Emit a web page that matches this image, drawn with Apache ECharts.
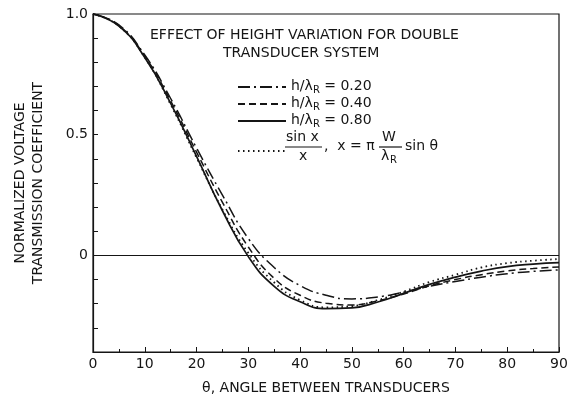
<!DOCTYPE html>
<html>
<head>
<meta charset="utf-8">
<script src="https://cdn.jsdelivr.net/npm/echarts@6/dist/echarts.min.js"></script>
<style>
  html, body { margin: 0; padding: 0; background: #fff; }
  #main { width: 582px; height: 405px; }
</style>
</head>
<body>
<div id="main"></div>
<script>
// angle between transducers (degrees)
var angles = [0, 5, 10, 15, 20, 25, 30, 35, 40, 45, 50, 55, 60, 65, 70, 75, 80, 85, 90];
// h/lambdaR = 0.20 (dash-dot)
var h020 = [1.0, 0.955, 0.83, 0.65, 0.445, 0.25, 0.07, -0.05, -0.125, -0.165, -0.18, -0.172, -0.152, -0.128, -0.108, -0.09, -0.076, -0.066, -0.06];
// h/lambdaR = 0.40 (dashed)
var h040 = [1.0, 0.952, 0.825, 0.64, 0.428, 0.22, 0.035, -0.095, -0.165, -0.198, -0.205, -0.188, -0.16, -0.126, -0.1, -0.08, -0.064, -0.054, -0.048];
// h/lambdaR = 0.80 (solid)
var h080 = [1.0, 0.95, 0.82, 0.63, 0.41, 0.185, -0.005, -0.128, -0.192, -0.22, -0.217, -0.193, -0.157, -0.12, -0.09, -0.065, -0.046, -0.036, -0.03];
// sin x / x (dotted)
var sincVals = [1.0, 0.95, 0.82, 0.625, 0.405, 0.19, 0.01, -0.112, -0.185, -0.215, -0.21, -0.185, -0.15, -0.11, -0.08, -0.05, -0.032, -0.022, -0.015];
var yLabels = { '0': '0', '0.5': '0.5', '1': '1.0' };

var font = 'DejaVu Sans';
var ink = '#151515';

function pairs(vals) {
    return angles.map(function (a, i) { return [a, vals[i]]; });
}

var myChart = echarts.init(document.getElementById('main'), null, { renderer: 'canvas' });

var legendRich = {
    a: { fontFamily: font, fontSize: 14, color: ink, lineHeight: 16, verticalAlign: 'top' },
    s: { fontFamily: font, fontSize: 10, color: ink, lineHeight: 16, verticalAlign: 'bottom', padding: [6, 0, 0, 0] }
};

var option = {
    backgroundColor: '#fff',
    animation: false,
    grid: { left: 93, right: 23, top: 14, bottom: 53, show: true, borderColor: ink, borderWidth: 1.2 },
    title: [
        { text: 'EFFECT OF HEIGHT VARIATION FOR DOUBLE', left: 145, top: 23,
          textStyle: { fontFamily: font, fontSize: 14, fontWeight: 'normal', color: ink } },
        { text: 'TRANSDUCER SYSTEM', left: 218, top: 41,
          textStyle: { fontFamily: font, fontSize: 14, fontWeight: 'normal', color: ink } }
    ],
    legend: [
        {
            data: ['h/λR = 0.20', 'h/λR = 0.40', 'h/λR = 0.80'],
            orient: 'vertical', left: 232, top: 74,
            itemWidth: 48, itemHeight: 12, itemGap: 1,
            itemStyle: { opacity: 0 },
            formatter: function (name) {
                return '{a|h/λ}{s|R}{a| = ' + name.split('= ')[1] + '}';
            },
            textStyle: { rich: legendRich }
        },
        {
            data: ['sinx/x'],
            orient: 'vertical', left: 232, top: 140,
            itemWidth: 48, itemHeight: 12,
            itemStyle: { opacity: 0 },
            formatter: function () { return ''; }
        }
    ],
    xAxis: {
        type: 'value', min: 0, max: 90, interval: 10,
        name: 'θ, ANGLE BETWEEN TRANSDUCERS', nameLocation: 'middle', nameGap: 29,
        nameTextStyle: { fontFamily: font, fontSize: 14, color: ink },
        axisLine: { show: true, onZero: false, lineStyle: { color: ink, width: 1.2 } },
        axisTick: { show: true, inside: true, length: 5, lineStyle: { color: ink } },
        minorTick: { show: true, splitNumber: 2, length: 3, lineStyle: { color: ink } },
        axisLabel: { fontFamily: font, fontSize: 14, color: ink, margin: 5 },
        splitLine: { show: false }
    },
    yAxis: {
        type: 'value', min: -0.4, max: 1.0, interval: 0.1,
        name: 'NORMALIZED VOLTAGE\nTRANSMISSION COEFFICIENT', nameLocation: 'middle', nameGap: 46,
        nameTextStyle: { fontFamily: font, fontSize: 14, color: ink, lineHeight: 18 },
        axisLine: { show: true, onZero: false, lineStyle: { color: ink, width: 1.2 } },
        axisTick: { show: true, inside: true, length: 5, lineStyle: { color: ink } },
        axisLabel: {
            fontFamily: font, fontSize: 14, color: ink, margin: 5,
            formatter: function (v) {
                var k = String(Math.round(v * 10) / 10);
                return yLabels[k] !== undefined ? yLabels[k] : '';
            }
        },
        splitLine: { show: false }
    },
    series: [
        {
            name: 'h/λR = 0.20', type: 'line', data: pairs(h020), smooth: true, symbol: 'none',
            itemStyle: { color: ink },
            lineStyle: { color: ink, width: 1.5, type: [12, 4, 2, 4] },
            markLine: {
                silent: true, symbol: 'none', label: { show: false },
                lineStyle: { color: ink, width: 1.2, type: 'solid' },
                data: [{ yAxis: 0 }]
            }
        },
        {
            name: 'h/λR = 0.40', type: 'line', data: pairs(h040), smooth: true, symbol: 'none',
            itemStyle: { color: ink },
            lineStyle: { color: ink, width: 1.5, type: [7, 4] }
        },
        {
            name: 'h/λR = 0.80', type: 'line', data: pairs(h080), smooth: true, symbol: 'none',
            itemStyle: { color: ink },
            lineStyle: { color: ink, width: 1.7, type: 'solid' }
        },
        {
            name: 'sinx/x', type: 'line', data: pairs(sincVals), smooth: true, symbol: 'none',
            itemStyle: { color: ink },
            lineStyle: { color: ink, width: 1.8, type: [1.5, 3.5] }
        }
    ],
    graphic: [
        { type: 'text', left: 286, top: 130, style: { text: 'sin x', font: '14px "DejaVu Sans"', fill: ink } },
        { type: 'line', shape: { x1: 285, y1: 147, x2: 322, y2: 147 }, style: { stroke: ink, lineWidth: 1.2 } },
        { type: 'text', left: 299, top: 149, style: { text: 'x', font: '14px "DejaVu Sans"', fill: ink } },
        { type: 'text', left: 324, top: 139, style: { text: ',  x = π', font: '14px "DejaVu Sans"', fill: ink } },
        { type: 'text', left: 382, top: 130, style: { text: 'W', font: '14px "DejaVu Sans"', fill: ink } },
        { type: 'line', shape: { x1: 379, y1: 147, x2: 402, y2: 147 }, style: { stroke: ink, lineWidth: 1.2 } },
        { type: 'text', left: 381, top: 149, style: { text: 'λ', font: '14px "DejaVu Sans"', fill: ink } },
        { type: 'text', left: 390, top: 155, style: { text: 'R', font: '10px "DejaVu Sans"', fill: ink } },
        { type: 'text', left: 405, top: 139, style: { text: 'sin θ', font: '14px "DejaVu Sans"', fill: ink } }
    ]
};

myChart.setOption(option);
</script>
</body>
</html>
